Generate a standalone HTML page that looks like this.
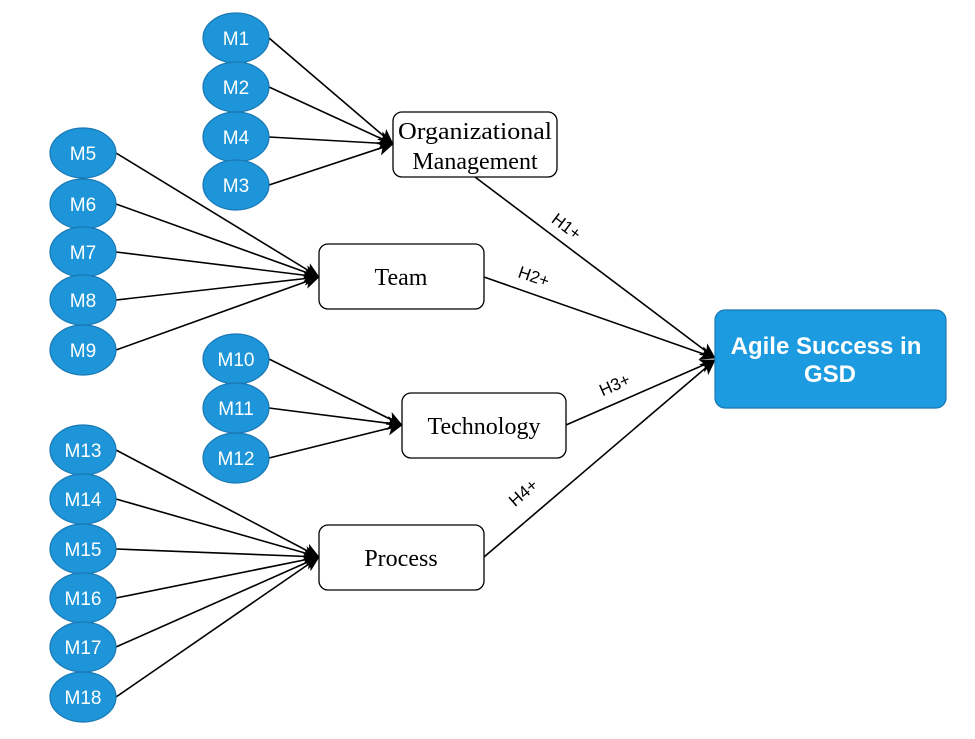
<!DOCTYPE html>
<html><head><meta charset="utf-8"><style>body{margin:0;background:#fff}</style></head><body>
<svg width="975" height="734" xmlns="http://www.w3.org/2000/svg">
<defs><marker id="a" markerWidth="16" markerHeight="14" refX="15" refY="7" orient="auto" markerUnits="userSpaceOnUse"><path d="M0,0 L16,7 L0,14 L4,7 z" fill="#000"/></marker></defs>
<g stroke="#000" stroke-width="1.6" fill="none" marker-end="url(#a)">
<line x1="269" y1="38" x2="393" y2="144"/>
<line x1="269" y1="87" x2="393" y2="144"/>
<line x1="269" y1="137" x2="393" y2="144"/>
<line x1="269" y1="185" x2="393" y2="144"/>
<line x1="116" y1="153" x2="319" y2="277"/>
<line x1="116" y1="204" x2="319" y2="277"/>
<line x1="116" y1="252" x2="319" y2="277"/>
<line x1="116" y1="300" x2="319" y2="277"/>
<line x1="116" y1="350" x2="319" y2="277"/>
<line x1="269" y1="359" x2="402" y2="425"/>
<line x1="269" y1="408" x2="402" y2="425"/>
<line x1="269" y1="458" x2="402" y2="425"/>
<line x1="116" y1="450" x2="319" y2="557"/>
<line x1="116" y1="499" x2="319" y2="557"/>
<line x1="116" y1="549" x2="319" y2="557"/>
<line x1="116" y1="598" x2="319" y2="557"/>
<line x1="116" y1="647" x2="319" y2="557"/>
<line x1="116" y1="697" x2="319" y2="557"/>
<line x1="475" y1="177" x2="715" y2="358"/>
<line x1="484" y1="277" x2="715" y2="358"/>
<line x1="566" y1="425" x2="715" y2="360"/>
<line x1="484" y1="557" x2="715" y2="360"/>
</g>
<g fill="#1d95d8" stroke="#1a78b5" stroke-width="1.2">
<ellipse cx="236" cy="38" rx="33" ry="25"/><ellipse cx="236" cy="87" rx="33" ry="25"/><ellipse cx="236" cy="137" rx="33" ry="25"/><ellipse cx="236" cy="185" rx="33" ry="25"/>
<ellipse cx="83" cy="153" rx="33" ry="25"/><ellipse cx="83" cy="204" rx="33" ry="25"/><ellipse cx="83" cy="252" rx="33" ry="25"/><ellipse cx="83" cy="300" rx="33" ry="25"/><ellipse cx="83" cy="350" rx="33" ry="25"/>
<ellipse cx="236" cy="359" rx="33" ry="25"/><ellipse cx="236" cy="408" rx="33" ry="25"/><ellipse cx="236" cy="458" rx="33" ry="25"/>
<ellipse cx="83" cy="450" rx="33" ry="25"/><ellipse cx="83" cy="499" rx="33" ry="25"/><ellipse cx="83" cy="549" rx="33" ry="25"/><ellipse cx="83" cy="598" rx="33" ry="25"/><ellipse cx="83" cy="647" rx="33" ry="25"/><ellipse cx="83" cy="697" rx="33" ry="25"/>
</g>
<g fill="#fff" font-family="Liberation Sans, sans-serif" font-size="19" text-anchor="middle">
<text x="236" y="45">M1</text><text x="236" y="94">M2</text><text x="236" y="144">M4</text><text x="236" y="192">M3</text>
<text x="83" y="160">M5</text><text x="83" y="211">M6</text><text x="83" y="259">M7</text><text x="83" y="307">M8</text><text x="83" y="357">M9</text>
<text x="236" y="366">M10</text><text x="236" y="415">M11</text><text x="236" y="465">M12</text>
<text x="83" y="457">M13</text><text x="83" y="506">M14</text><text x="83" y="556">M15</text><text x="83" y="605">M16</text><text x="83" y="654">M17</text><text x="83" y="704">M18</text>
</g>
<g fill="#fff" stroke="#000" stroke-width="1.3">
<rect x="393" y="112" width="164" height="65" rx="9"/>
<rect x="319" y="244" width="165" height="65" rx="9"/>
<rect x="402" y="393" width="164" height="65" rx="9"/>
<rect x="319" y="525" width="165" height="65" rx="9"/>
</g>
<rect x="715" y="310" width="231" height="98" rx="10" fill="#1d9be0" stroke="#1a78b5" stroke-width="1.2"/>
<g font-family="Liberation Serif, serif" font-size="24" text-anchor="middle" fill="#000">
<text x="475" y="139" textLength="154" lengthAdjust="spacingAndGlyphs">Organizational</text><text x="475" y="169">Management</text>
<text x="401" y="285">Team</text>
<text x="484" y="434">Technology</text>
<text x="401" y="566">Process</text>
</g>
<g font-family="Liberation Sans, sans-serif" font-size="24" font-weight="bold" text-anchor="middle" fill="#fff">
<text x="826" y="354">Agile Success in</text><text x="830" y="382">GSD</text>
</g>
<g font-family="Liberation Sans, sans-serif" font-size="17" text-anchor="middle" fill="#000">
<text transform="translate(563,231) rotate(37)">H1+</text>
<text transform="translate(532,282) rotate(19)">H2+</text>
<text transform="translate(617,390) rotate(-24)">H3+</text>
<text transform="translate(527,497) rotate(-41)">H4+</text>
</g>
</svg>
</body></html>
